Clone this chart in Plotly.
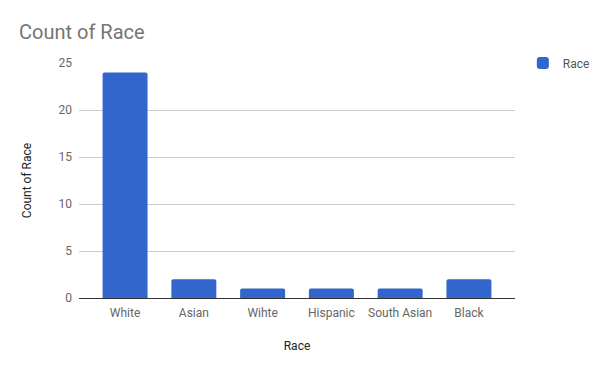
import plotly.graph_objects as go

categories = ["White", "Asian", "Wihte", "Hispanic", "South Asian", "Black"]
counts = [24, 2, 1, 1, 1, 2]

fig = go.Figure()
fig.add_trace(go.Bar(
    x=categories, y=counts, name="Race",
    marker=dict(color="#3366cc", cornerradius=2, line=dict(width=0)),
    width=0.654,
))

fig.update_layout(
    width=600, height=371,
    margin=dict(l=79, r=85, t=63, b=73, autoexpand=False),
    paper_bgcolor="white", plot_bgcolor="white",
    font=dict(family="Roboto", size=12, color="#444444"),
    title=dict(text="Count of Race", x=19/600, xanchor="left", y=1-32/371, yanchor="middle",
               font=dict(family="Roboto", size=20, color="#757575")),
    showlegend=True,
    legend=dict(x=1.018, y=1.0, xanchor="left", yanchor="middle",
                font=dict(family="Roboto", size=12, color="#555555"),
                itemwidth=30, bgcolor="rgba(0,0,0,0)"),
    xaxis=dict(range=[-0.67, 5.67], showgrid=False, showline=True, linecolor="#333333", linewidth=1,
               ticks="", ticklabelstandoff=4, tickfont=dict(size=12, color="#666666"),
               title=dict(text="Race", font=dict(size=12, color="#222222"), standoff=22)),
    yaxis=dict(range=[0, 25], dtick=5, showgrid=True, gridcolor="#cccccc", gridwidth=1,
               zeroline=False, ticks="", ticklabelstandoff=6,
               tickfont=dict(size=12, color="#666666"),
               title=dict(text="Count of Race", font=dict(size=12, color="#222222"), standoff=24)),
)

fig.write_html("out.html")
